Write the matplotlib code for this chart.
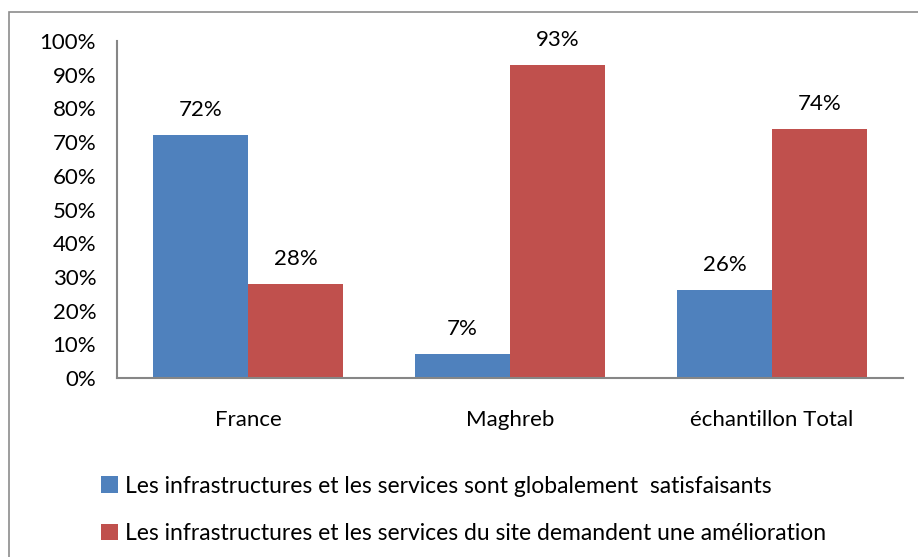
import matplotlib
matplotlib.use("Agg")
import matplotlib.pyplot as plt
import numpy as np
from matplotlib.patches import Rectangle

# data
categories = ["France", "Maghreb", "échantillon Total"]
satisfaits = [72, 7, 26]
amelioration = [28, 93, 74]
series_labels = ["Les infrastructures et les services sont globalement  satisfaisants",
                 "Les infrastructures et les services du site demandent une amélioration"]
yticks = list(range(0, 101, 10))

blue = "#4F81BD"
red = "#C0504D"
plt.rcParams["font.family"] = ["Lato", "DejaVu Sans"]
fs = 16

fig = plt.figure(figsize=(9.18, 5.57), dpi=100)
ax = fig.add_axes([117 / 918, 1 - 378 / 557, (903 - 117) / 918, (378 - 41) / 557])

x = np.arange(len(categories))
w = 0.3625
b1 = ax.bar(x - w / 2, satisfaits, w, color=blue, label=series_labels[0])
b2 = ax.bar(x + w / 2, amelioration, w, color=red, label=series_labels[1])

# value labels above the bars
for bars, vals in ((b1, satisfaits), (b2, amelioration)):
    for r, v in zip(bars, vals):
        ax.text(r.get_x() + r.get_width() / 2, v + 7.4, f"{v}%", ha="center",
                va="center", fontsize=fs)

ax.set_xlim(-0.5, 2.5)
ax.set_ylim(0, 100)
ax.set_yticks(yticks)
ax.set_yticklabels([f"{t}%" for t in yticks], fontsize=fs)
ax.set_xticks(x)
ax.set_xticklabels(categories, fontsize=fs)
ax.tick_params(axis="both", length=0)
ax.tick_params(axis="y", pad=15)
ax.tick_params(axis="x", pad=23)
for s in ("top", "right"):
    ax.spines[s].set_visible(False)
for s in ("left", "bottom"):
    ax.spines[s].set_color("#868686")
    ax.spines[s].set_linewidth(1.5)

# legend below the plot
fig.legend(handles=[b1, b2], labels=series_labels, loc="upper left",
           bbox_to_anchor=(80 / 918, 1 - 455 / 557), frameon=False, fontsize=16.5,
           handlelength=0.75, handleheight=0.75, handletextpad=0.3, labelspacing=1.15)

# chart border
fig.patches.append(Rectangle((9 / 918, -0.1), 1.2, 1 - 12 / 557 + 0.1,
                             transform=fig.transFigure, fill=False,
                             edgecolor="#8c8c8c", linewidth=1.2))

fig.savefig("out.png", dpi=100)
